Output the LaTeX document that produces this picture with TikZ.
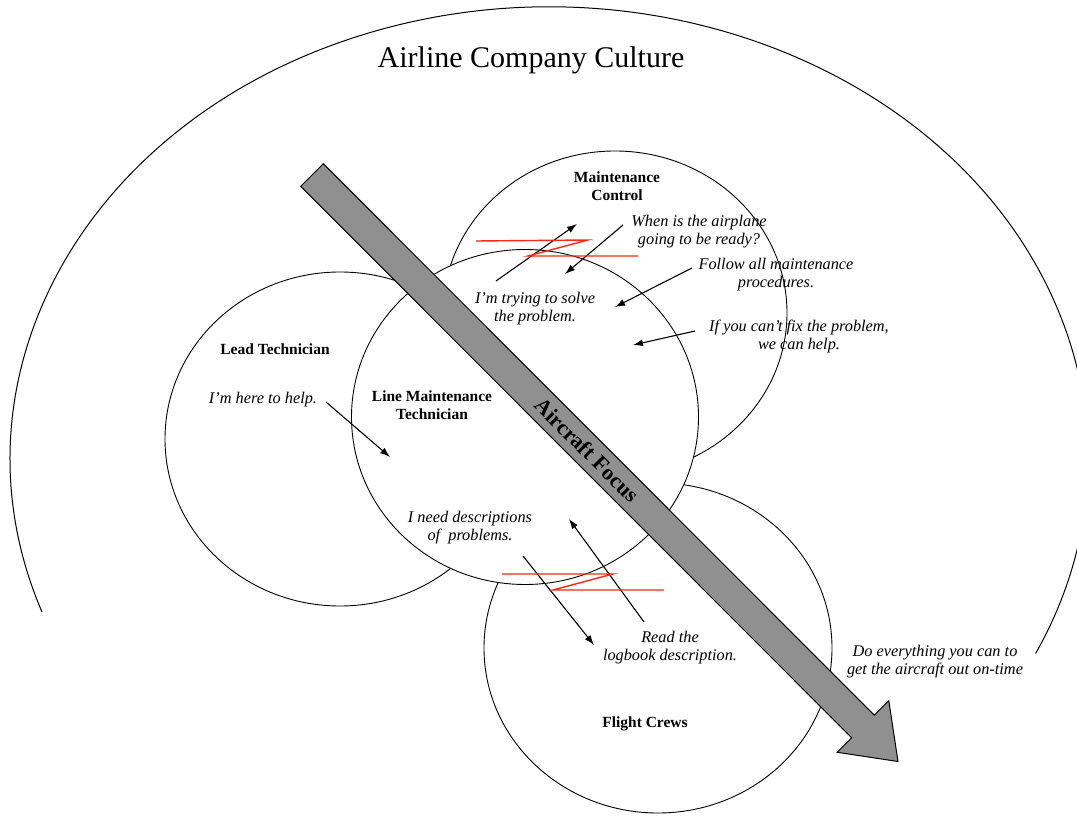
\documentclass[tikz,border=0pt]{standalone}
\usepackage{fontspec}
\setmainfont{Liberation Serif}
\usetikzlibrary{shapes.geometric,arrows.meta}
\definecolor{focusgray}{RGB}{144,144,144}
\definecolor{zagred}{RGB}{250,40,20}
\tikzset{
  circ/.style={ellipse, draw, fill=white, inner sep=0pt, line width=0.9pt},
  who/.style={font=\fontsize{15.5}{18}\selectfont\bfseries, align=center, inner sep=0pt},
  say/.style={font=\fontsize{16.3}{18}\selectfont\itshape, align=center, inner sep=0pt},
  talk/.style={-{Latex[length=10pt,width=7pt]}, line width=1.1pt},
  zag/.style={zagred, line width=1.4pt},
}
\begin{document}
\begin{tikzpicture}[x=1pt,y=-1pt]
    \useasboundingbox (0,0) rectangle (1077,818);
    % culture
    \draw [line width=1pt] (42,612) arc [start angle=160.2, end angle=385.5, x radius=539, y radius=452];
    \node [font=\fontsize{30}{32}\selectfont] (title) at (531,60) {Airline Company Culture};
    % groups
    \node [circ, minimum width=344pt, minimum height=324pt] (mc) at (615,313) {};
    \node [circ, minimum width=350pt, minimum height=334pt] (lt) at (340,439) {};
    \node [circ, minimum width=348pt, minimum height=330pt] (fc) at (658,648) {};
    \node [circ, minimum width=347pt, minimum height=335pt] (lmt) at (525,417) {};
    \node [who] (mcl) at (617,186) {Maintenance\\Control};
    \node [who] (ltl) at (275,349) {Lead Technician};
    \node [who] (lmtl) at (432,405) {Line Maintenance\\Technician};
    \node [who] (fcl) at (645,724) {Flight Crews};
    % what they say
    \node [say] (s1) at (699,232) {When is the airplane\\going to be ready?};
    \node [say] (s2) at (776,275) {Follow all maintenance\\procedures.};
    \node [say] (s3) at (535,309) {I'm trying to solve\\the problem.};
    \node [say] (s4) at (799,336) {If you can't fix the problem,\\we can help.};
    \node [say] (s5) at (263,400) {I'm here to help.};
    \node [say] (s6) at (470,528) {I need descriptions\\of~ problems.};
    \node [say] (s7) at (670,648) {Read the\\logbook description.};
    \node [say] (s8) at (935,662) {Do everything you can to\\get the aircraft out on-time};
    % message ends
    \coordinate (a1) at (496,281); \coordinate (b1) at (577,224);
    \coordinate (a2) at (623,225); \coordinate (b2) at (565,274);
    \coordinate (a3) at (692,268); \coordinate (b3) at (615,307);
    \coordinate (a4) at (695,331); \coordinate (b4) at (633,345);
    \coordinate (a5) at (326,402); \coordinate (b5) at (390,457);
    \coordinate (a6) at (523,556); \coordinate (b6) at (594,645);
    \coordinate (a7) at (644,622); \coordinate (b7) at (569,519);
    \draw [talk] (a1) -- (b1);
    \draw [talk] (a2) -- (b2);
    \draw [talk] (a3) -- (b3);
    \draw [talk] (a4) -- (b4);
    \draw [talk] (a5) -- (b5);
    \draw [talk] (a6) -- (b6);
    \draw [talk] (a7) -- (b7);
    % breaks
    \coordinate (z1a) at (476,241); \coordinate (z1b) at (588,240);
    \coordinate (z1c) at (528,256); \coordinate (z1d) at (638,256);
    \coordinate (z2a) at (502,574); \coordinate (z2b) at (613,574);
    \coordinate (z2c) at (553,590); \coordinate (z2d) at (664,590);
    \draw [zag] (z1a) -- (z1b) -- (z1c) -- (z1d);
    \draw [zag] (z2a) -- (z2b) -- (z2c) -- (z2d);
    % focus arrow
    \filldraw [fill=focusgray, line width=1pt] (300.7,186.3) -- (323.3,163.7) -- (874.3,715.2) -- (888.8,700.7)
      -- (898,761.5) -- (837.2,752.3) -- (851.7,737.8) -- cycle;
    \node [font=\fontsize{22}{24}\selectfont\bfseries, rotate=-45] (focus) at (587,450) {Aircraft Focus};
  \end{tikzpicture}
\end{document}
